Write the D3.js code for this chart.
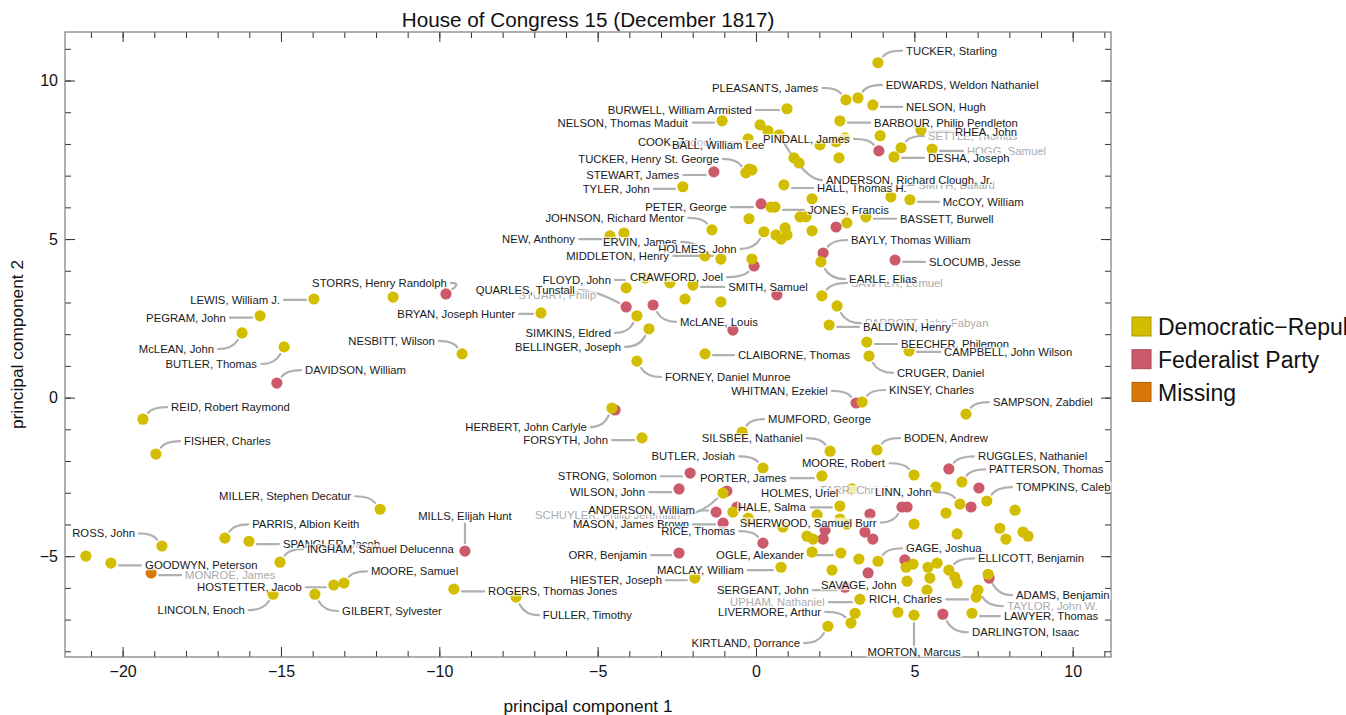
<!DOCTYPE html>
<html><head><meta charset="utf-8">
<script src="https://cdn.jsdelivr.net/npm/d3@7"></script>
<style>
body{margin:0;background:#fff;overflow:hidden}
text{font-family:"Liberation Sans",Arial,Helvetica,sans-serif}
</style>
</head><body>
<svg id="chart" width="1346" height="715"></svg>
<script>
// ---------------- data ----------------
const title = "House of Congress 15 (December 1817)";
const xTitle = "principal component 1";
const yTitle = "principal component 2";
const parties = ["Democratic\u2212Republican", "Federalist Party", "Missing"];
const partyColors = ["#d3bd00", "#cc5a6b", "#d97806"];
const xMajorTicks = [-20, -15, -10, -5, 0, 5, 10];
const yMajorTicks = [-5, 0, 5, 10];

// [name, pc1, pc2]
const democraticRepublican = [
["REID, Robert Raymond",-19.36,-0.68],["FISHER, Charles",-18.95,-1.78],["McLEAN, John",-16.23,2.04],
["PEGRAM, John",-15.66,2.58],["LEWIS, William J.",-13.96,3.11],["BUTLER, Thomas",-14.90,1.60],
["",-11.46,3.17],["BRYAN, Joseph Hunter",-6.79,2.67],["NESBITT, Wilson",-9.28,1.38],
["",-21.16,-5.00],["GOODWYN, Peterson",-20.37,-5.22],["ROSS, John",-18.76,-4.68],
["PARRIS, Albion Keith",-16.77,-4.43],["SPANGLER, Jacob",-16.01,-4.53],["INGHAM, Samuel Delucenna",-15.03,-5.19],
["MILLER, Stephen Decatur",-11.87,-3.52],["HOSTETTER, Jacob",-13.33,-5.91],["MOORE, Samuel",-13.01,-5.85],
["LINCOLN, Enoch",-15.25,-6.20],["GILBERT, Sylvester",-13.93,-6.20],["ROGERS, Thomas Jones",-9.54,-6.04],
["FULLER, Timothy",-7.58,-6.29],["HERBERT, John Carlyle",-4.55,-0.33],["FORSYTH, John",-3.60,-1.27],
["NEW, Anthony",-4.61,5.10],["",-4.17,5.19],["FLOYD, John",-4.10,3.46],
["",-3.50,3.77],["",-2.72,3.62],["SMITH, Samuel",-1.99,3.55],
["",-2.24,3.11],["",-1.11,3.02],["SIMKINS, Eldred",-3.76,2.58],
["BELLINGER, Joseph",-3.38,2.17],["CLAIBORNE, Thomas",-1.61,1.38],["FORNEY, Daniel Munroe",-3.76,1.15],
["ERVIN, James",-1.61,4.47],["MIDDLETON, Henry",-1.11,4.37],["",-0.13,4.37],
["JOHNSON, Richard Mentor",-1.39,5.29],["TYLER, John",-2.31,6.65],["NELSON, Thomas Maduit",-1.07,8.73],
["",-0.22,5.64],["",0.47,6.01],["JONES, Francis",0.60,6.01],
["HOLMES, John",0.25,5.23],["",0.63,5.13],["",0.79,5.00],["",0.92,5.35],["",0.98,5.13],
["TUCKER, Henry St. George",-0.32,7.09],["",-0.22,7.21],["",-0.13,7.18],
["COOK, Zadock",-0.25,8.16],["BALL, William Lee",0.13,8.60],["",0.38,8.41],
["ANDERSON, Richard Clough, Jr.",0.73,8.29],["BURWELL, William Armisted",0.98,9.11],
["",1.20,7.56],["",1.36,7.40],["",2.02,7.97],["",2.53,8.07],["",2.81,8.19],["",2.62,7.56],
["HALL, Thomas H.",0.88,6.71],["",1.77,6.27],["",1.39,5.70],["",1.58,5.70],["",1.77,5.26],["",2.87,5.51],
["TUCKER, Starling",3.85,10.56],["PLEASANTS, James",2.84,9.39],["EDWARDS, Weldon Nathaniel",3.22,9.45],
["NELSON, Hugh",3.69,9.23],["BARBOUR, Philip Pendleton",2.65,8.73],["",3.92,8.26],
["DESHA, Joseph",4.36,7.59],["SETTLE, Thomas",4.58,7.88],["RHEA, John",5.21,8.44],
["HOGG, Samuel",5.56,7.84],["SMITH, Ballard",4.26,6.33],["McCOY, William",4.86,6.24],
["BASSETT, Burwell",3.47,5.70],["EARLE, Elias",2.05,4.28],["SAWYER, Lemuel",2.08,3.21],
["PARROTT, John Fabyan",2.56,2.89],["BALDWIN, Henry",2.31,2.29],["BEECHER, Philemon",3.50,1.75],
["CAMPBELL, John Wilson",4.83,1.47],["CRUGER, Daniel",3.57,1.31],["KINSEY, Charles",3.35,-0.14],
["SAMPSON, Zabdiel",6.63,-0.52],["MUMFORD, George",-0.44,-1.09],["SILSBEE, Nathaniel",2.34,-1.69],
["BODEN, Andrew",3.82,-1.65],["BUTLER, Josiah",0.22,-2.22],["SCHUYLER, Philip Jeremiah",-1.04,-3.01],
["",-0.73,-3.61],["",-0.25,-3.80],["MACLAY, William",0.79,-5.35],["HIESTER, Joseph",-1.93,-5.69],
["PORTER, James",2.08,-2.47],["MOORE, Robert",4.99,-2.44],["PATTERSON, Thomas",6.50,-2.66],
["TOMPKINS, Caleb",7.29,-3.26],["",5.68,-2.82],["LINN, John",6.44,-3.36],["",6.00,-3.64],
["",8.18,-3.55],["",7.70,-4.12],["",7.89,-4.46],["",8.43,-4.24],["",8.59,-4.37],["",6.35,-4.30],
["",4.99,-3.99],["HALE, Salma",2.65,-3.42],["HOLMES, Uriel",3.03,-2.88],["",-0.22,-3.86],
["",0.85,-4.08],["",1.61,-4.37],["",1.80,-4.46],["",1.93,-3.70],["",2.65,-3.83],["",2.87,-3.99],
["",1.77,-4.87],["OGLE, Alexander",2.68,-4.90],["",3.25,-5.09],["GAGE, Joshua",3.85,-5.16],
["",2.40,-5.44],["UPHAM, Nathaniel",3.28,-6.36],["",3.13,-6.80],["LIVERMORE, Arthur",3.00,-7.11],
["KIRTLAND, Dorrance",2.27,-7.21],["",4.48,-6.77],["MORTON, Marcus",4.99,-6.86],
["",4.74,-5.35],["",4.96,-5.25],["SAVAGE, John",4.77,-5.79],["",5.43,-5.35],["",5.72,-5.22],
["",5.49,-5.69],["",5.40,-6.07],["ELLICOTT, Benjamin",6.09,-5.44],["",6.28,-5.66],["",6.35,-5.85],
["ADAMS, Benjamin",7.33,-5.57],["TAYLOR, John W.",7.01,-6.07],["RICH, Charles",6.95,-6.29],
["LAWYER, Thomas",6.82,-6.80]
];

const federalist = [
["DAVIDSON, William",-15.13,0.46],["STORRS, Henry Randolph",-9.79,3.27],["MILLS, Elijah Hunt",-9.19,-4.84],
["",-4.45,-0.39],["QUARLES, Tunstall",-4.10,2.86],["McLANE, Louis",-3.25,2.92],["",-0.73,2.13],
["",0.66,3.24],["CRAWFORD, Joel",-0.06,4.15],["STEWART, James",-1.33,7.12],["PETER, George",0.16,6.11],
["",2.53,5.38],["PINDALL, James",3.88,7.78],["BAYLY, Thomas William",2.12,4.56],["SLOCUMB, Jesse",4.39,4.34],
["WHITMAN, Ezekiel",3.16,-0.17],["STRONG, Solomon",-2.08,-2.38],["WILSON, John",-2.43,-2.88],
["",-0.92,-2.95],["ANDERSON, William",-1.26,-3.61],["",-0.60,-3.45],["MASON, James Brown",-1.04,-3.96],
["RICE, Thomas",0.22,-4.59],["ORR, Benjamin",-2.43,-4.90],["RUGGLES, Nathaniel",6.09,-2.25],
["",7.04,-2.85],["",6.79,-3.45],["SHERWOOD, Samuel Burr",4.61,-3.45],["",4.77,-3.45],
["",2.12,-4.46],["",2.18,-4.18],["",3.44,-4.24],["",3.69,-4.46],["",3.60,-3.67],["",3.54,-5.53],
["SERGEANT, John",2.81,-5.98],["",4.70,-5.12],["",7.36,-5.69],["DARLINGTON, Isaac",5.90,-6.83]
];

const missingParty = [["MONROE, James",-19.10,-5.53]];

// ---------------- label layout (data units): name, x, y, anchor, faded, noLeader ----------------
const labelLayout = [
["TUCKER, Starling",4.74,10.94,"start"],["PLEASANTS, James",1.96,9.77,"end"],
["EDWARDS, Weldon Nathaniel",4.10,9.86,"start"],["NELSON, Hugh",4.74,9.17,"start"],
["BURWELL, William Armisted",-0.13,9.07,"end"],["NELSON, Thomas Maduit",-2.15,8.67,"end"],
["BARBOUR, Philip Pendleton",3.73,8.67,"start"],["COOK, Zadock",-3.73,8.06,"start"],
["BALL, William Lee",-2.65,7.97,"start",0,1],["PINDALL, James",0.22,8.16,"start"],
["SETTLE, Thomas",5.43,8.25,"start",1],["RHEA, John",6.28,8.38,"start"],
["HOGG, Samuel",6.66,7.78,"start",1],["DESHA, Joseph",5.43,7.56,"start"],
["TUCKER, Henry St. George",-1.17,7.53,"end"],["STEWART, James",-2.43,7.02,"end"],
["TYLER, John",-3.35,6.58,"end"],["HALL, Thomas H.",1.93,6.61,"start"],
["SMITH, Ballard",5.12,6.71,"start",1],["ANDERSON, Richard Clough, Jr.",2.21,6.86,"start"],
["McCOY, William",5.90,6.17,"start"],["PETER, George",-0.92,6.01,"end"],
["JONES, Francis",1.64,5.92,"start"],["BASSETT, Burwell",4.55,5.64,"start"],
["JOHNSON, Richard Mentor",-2.27,5.67,"end"],["NEW, Anthony",-5.72,5.00,"end"],
["BAYLY, Thomas William",3.00,4.97,"start"],["ERVIN, James",-4.83,4.91,"start"],
["HOLMES, John",-3.09,4.69,"start"],["MIDDLETON, Henry",-2.75,4.47,"end"],
["SLOCUMB, Jesse",5.46,4.28,"start"],["SAWYER, Lemuel",3.00,3.62,"start",1],
["EARLE, Elias",2.94,3.74,"start"],["STORRS, Henry Randolph",-9.76,3.62,"end"],
["LEWIS, William J.",-15.03,3.08,"end"],["FLOYD, John",-4.58,3.71,"end"],
["CRAWFORD, Joel",-3.98,3.80,"start"],["SMITH, Samuel",-0.88,3.49,"start"],
["STUART, Philip",-5.05,3.24,"end",1],["QUARLES, Tunstall",-5.72,3.40,"end"],
["PEGRAM, John",-16.74,2.52,"end"],["BRYAN, Joseph Hunter",-7.61,2.64,"end"],
["PARROTT, John Fabyan",3.44,2.35,"start",1],["BALDWIN, Henry",3.38,2.23,"start"],
["McLANE, Louis",-2.40,2.39,"start"],["SIMKINS, Eldred",-4.58,2.04,"end"],
["NESBITT, Wilson",-10.14,1.79,"end"],["BELLINGER, Joseph",-4.26,1.60,"end"],
["BEECHER, Philemon",4.58,1.69,"start"],["McLEAN, John",-17.11,1.53,"end"],
["CAMPBELL, John Wilson",5.94,1.44,"start"],["CLAIBORNE, Thomas",-0.57,1.34,"start"],
["BUTLER, Thomas",-15.76,1.06,"end"],["DAVIDSON, William",-14.24,0.87,"start"],
["CRUGER, Daniel",4.45,0.78,"start"],["FORNEY, Daniel Munroe",-2.87,0.65,"start"],
["WHITMAN, Ezekiel",2.27,0.21,"end"],["KINSEY, Charles",4.20,0.24,"start"],
["SAMPSON, Zabdiel",7.48,-0.14,"start"],["REID, Robert Raymond",-18.47,-0.30,"start"],
["MUMFORD, George",0.38,-0.68,"start"],["HERBERT, John Carlyle",-5.34,-0.93,"end"],
["SILSBEE, Nathaniel",1.48,-1.28,"end"],["BODEN, Andrew",4.67,-1.28,"start"],
["FORSYTH, John",-4.67,-1.34,"end"],["FISHER, Charles",-18.06,-1.37,"start"],
["BUTLER, Josiah",-0.66,-1.85,"end"],["RUGGLES, Nathaniel",7.01,-1.85,"start"],
["MOORE, Robert",1.45,-2.07,"start"],["PATTERSON, Thomas",7.36,-2.26,"start"],
["STRONG, Solomon",-3.13,-2.48,"end"],["PORTER, James",-1.77,-2.54,"start"],
["TOMPKINS, Caleb",8.21,-2.82,"start"],["TARR, Christian",2.02,-2.92,"start",1],
["WILSON, John",-3.50,-2.98,"end"],["HOLMES, Uriel",0.16,-3.01,"start"],
["LINN, John",3.76,-2.98,"start"],["MILLER, Stephen Decatur",-12.79,-3.11,"end"],
["HALE, Salma",-0.57,-3.46,"start"],["SCHUYLER, Philip Jeremiah",-6.98,-3.69,"start",1],
["ANDERSON, William",-5.30,-3.56,"start"],["MILLS, Elijah Hunt",-9.19,-3.75,"middle"],
["SHERWOOD, Samuel Burr",-0.51,-3.94,"start"],["PARRIS, Albion Keith",-15.91,-4.00,"start"],
["MASON, James Brown",-5.78,-4.00,"start"],["RICE, Thomas",-0.66,-4.21,"end"],
["ROSS, John",-19.61,-4.28,"end"],["SPANGLER, Jacob",-14.94,-4.62,"start"],
["GAGE, Joshua",4.74,-4.75,"start"],["INGHAM, Samuel Delucenna",-14.18,-4.78,"start"],
["ORR, Benjamin",-3.44,-4.97,"end"],["OGLE, Alexander",-1.26,-4.97,"start"],
["ELLICOTT, Benjamin",7.01,-5.07,"start"],["GOODWYN, Peterson",-19.29,-5.29,"start"],
["MONROE, James",-18.03,-5.60,"start",1],["MACLAY, William",-3.13,-5.44,"start"],
["MOORE, Samuel",-12.16,-5.48,"start"],["HIESTER, Joseph",-2.97,-5.76,"end"],
["SAVAGE, John",2.05,-5.92,"start"],["HOSTETTER, Jacob",-14.34,-5.98,"end"],
["SERGEANT, John",-1.23,-6.07,"start"],["ROGERS, Thomas Jones",-8.46,-6.11,"start"],
["ADAMS, Benjamin",8.21,-6.23,"start"],["UPHAM, Nathaniel",-0.82,-6.45,"start",1],
["RICH, Charles",3.57,-6.36,"start"],["TAYLOR, John W.",7.93,-6.58,"start",1],
["LINCOLN, Enoch",-16.14,-6.70,"end"],["GILBERT, Sylvester",-13.07,-6.73,"start"],
["LIVERMORE, Arthur",-1.20,-6.76,"start"],["FULLER, Timothy",-6.73,-6.86,"start"],
["LAWYER, Thomas",7.83,-6.89,"start"],["DARLINGTON, Isaac",6.82,-7.40,"start"],
["KIRTLAND, Dorrance",1.39,-7.74,"end"],["MORTON, Marcus",4.99,-8.03,"middle"]
];

// ---------------- drawing ----------------
const svg = d3.select("#chart");
const L = 65, R = 1111, T = 32, B = 657;
const x = d3.scaleLinear().domain([-21.82, 11.21]).range([L, R]);
const y = d3.scaleLinear().domain([-8.18, 11.53]).range([B, T]);

const members = [];
federalist.forEach(d => members.push({name:d[0], x:d[1], y:d[2], p:1}));
democraticRepublican.forEach(d => members.push({name:d[0], x:d[1], y:d[2], p:0}));
missingParty.forEach(d => members.push({name:d[0], x:d[1], y:d[2], p:2}));
const byName = new Map(members.filter(m => m.name).map(m => [m.name, m]));

// title
svg.append("text").attr("x", (L+R)/2).attr("y", 27).attr("text-anchor","middle")
  .attr("font-size", 20.7).attr("fill","#111").text(title);

// axes
const xMinor = d3.range(-21, 12, 1);
const yMinor = d3.range(-8, 12, 1);
function styleAxis(g){ g.select(".domain").remove(); g.selectAll(".tick line").attr("stroke","#333"); }
const fmt = d3.format("");
const tickFont = g => g.selectAll("text").attr("font-size",16).attr("fill","#111")
  .attr("font-family","Liberation Sans, Arial, sans-serif");
svg.append("g").attr("transform",`translate(0,${B})`)
  .call(d3.axisBottom(x).tickValues(xMinor).tickSize(-6).tickFormat("")).call(styleAxis);
svg.append("g").attr("transform",`translate(0,${B})`)
  .call(d3.axisBottom(x).tickValues(xMajorTicks).tickSize(-10).tickPadding(9).tickFormat(fmt))
  .call(styleAxis).call(tickFont);
svg.append("g").attr("transform",`translate(0,${T})`)
  .call(d3.axisTop(x).tickValues(xMinor).tickSize(-6).tickFormat("")).call(styleAxis);
svg.append("g").attr("transform",`translate(0,${T})`)
  .call(d3.axisTop(x).tickValues(xMajorTicks).tickSize(-10).tickFormat("")).call(styleAxis);
svg.append("g").attr("transform",`translate(${L},0)`)
  .call(d3.axisLeft(y).tickValues(yMinor).tickSize(-6).tickFormat("")).call(styleAxis);
svg.append("g").attr("transform",`translate(${L},0)`)
  .call(d3.axisLeft(y).tickValues(yMajorTicks).tickSize(-10).tickPadding(7).tickFormat(fmt))
  .call(styleAxis).call(tickFont);
svg.append("g").attr("transform",`translate(${R},0)`)
  .call(d3.axisRight(y).tickValues(yMinor).tickSize(-6).tickFormat("")).call(styleAxis);
svg.append("g").attr("transform",`translate(${R},0)`)
  .call(d3.axisRight(y).tickValues(yMajorTicks).tickSize(-10).tickFormat("")).call(styleAxis);
svg.append("rect").attr("x",L).attr("y",T).attr("width",R-L).attr("height",B-T)
  .attr("fill","none").attr("stroke","#7a7a7a").attr("stroke-width",1.2);

svg.append("text").attr("x",(L+R)/2).attr("y",712).attr("text-anchor","middle")
  .attr("font-size",17.3).attr("fill","#111").text(xTitle);
svg.append("text").attr("transform",`translate(23,${(T+B)/2}) rotate(-90)`).attr("text-anchor","middle")
  .attr("font-size",17.3).attr("fill","#111").text(yTitle);

// layers
const gLead = svg.append("g");
const gPts = svg.append("g");
const gLab = svg.append("g");

gPts.selectAll("circle").data(members).join("circle")
  .attr("cx", d => x(d.x)).attr("cy", d => y(d.y)).attr("r", 5.6)
  .attr("fill", d => partyColors[d.p]);

const labels = labelLayout.map(d => ({name:d[0], lx:d[1], ly:d[2], anchor:d[3], faded:!!d[4], noLead:!!d[5]}));
labels.sort((a,b) => (b.faded?1:0) - (a.faded?1:0));

labels.forEach(lb => {
  const g = gLab.append("g");
  const rect = g.append("rect");
  const t = g.append("text").attr("x", x(lb.lx)).attr("y", y(lb.ly)).attr("dy","0.35em")
    .attr("text-anchor", lb.anchor).attr("font-size", 11.3)
    .attr("fill", lb.faded ? "#ababab" : "#1a1a1a").text(lb.name);
  const bb = t.node().getBBox();
  rect.attr("x", bb.x-1).attr("y", bb.y+1).attr("width", bb.width+2).attr("height", bb.height-2)
    .attr("fill","#fff").attr("fill-opacity",0.7);
  const m = byName.get(lb.name);
  if (!m || lb.noLead) return;
  const px = x(m.x), py = y(m.y);
  let path;
  if (lb.anchor === "middle") {
    const ay = py < bb.y ? bb.y - 1 : bb.y + bb.height + 1;
    const sy = py + Math.sign(ay - py) * 8;
    path = `M${px},${sy}L${px},${ay}`;
  } else {
    const cx = bb.x + bb.width/2;
    const right = px > cx;
    const ax = right ? bb.x + bb.width + 4 : bb.x - 4;
    const ay = y(lb.ly);
    const dir = right ? -1 : 1;
    if (Math.hypot(ax-px, ay-py) < 11) return;
    if (Math.abs(ay - py) < 3.5) {
      path = `M${px + dir*8},${ay}L${ax},${ay}`;
    } else {
      const cxp = ax - dir*Math.max(10, Math.min(16, Math.abs(ax-px)*0.6));
      const vx = cxp - px, vy = ay - py, n = Math.hypot(vx, vy) || 1;
      const sx = px + vx/n*8, sy = py + vy/n*8;
      path = `M${sx},${sy}Q${cxp},${ay} ${ax},${ay}`;
    }
  }
  gLead.append("path").attr("d", path).attr("fill","none")
    .attr("stroke","#b0b0b0").attr("stroke-width",2.2).attr("stroke-linecap","round");
});

// legend
const lg = svg.append("g").attr("transform","translate(1132,317)");
parties.forEach((p,i) => {
  const c = d3.color(partyColors[i]);
  lg.append("rect").attr("x",0).attr("y",i*32.7).attr("width",19).attr("height",19)
    .attr("fill",partyColors[i]).attr("stroke",c.darker(0.6)).attr("stroke-width",1);
  lg.append("text").attr("x",26).attr("y",i*32.7+10).attr("dy","0.36em")
    .attr("font-size",23).attr("fill","#111").text(p);
});
</script>
</body></html>
